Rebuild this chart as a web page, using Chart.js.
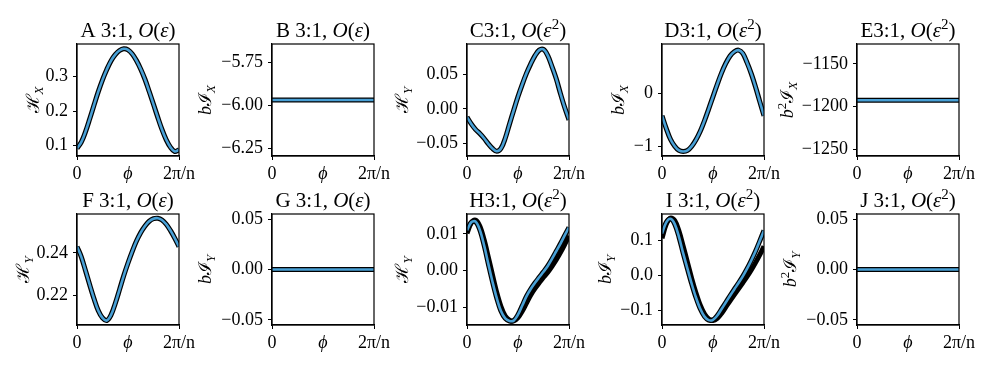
<!DOCTYPE html>
<html lang="en">
<head>
<meta charset="UTF-8">
<title>3:1 resonance panels</title>
<script src="https://cdn.jsdelivr.net/npm/chart.js"></script>
<style>
  body { margin: 0; background: #fff; }
  #wrap { position: relative; width: 997px; height: 374px; overflow: hidden; }
  #wrap canvas { position: absolute; }
</style>
</head>
<body>
<div id="wrap"></div>
<script>
// phase over one period, 0 .. 2pi/n (as a fraction)
const phi = [0, 0.042, 0.083, 0.125, 0.167, 0.208, 0.25, 0.292, 0.333, 0.375, 0.417, 0.458, 0.5,
             0.542, 0.583, 0.625, 0.667, 0.708, 0.75, 0.792, 0.833, 0.875, 0.917, 0.958, 1];
const phiFlat = [0, 1];

// top row
const hxEps   = [0.092, 0.110, 0.140, 0.178, 0.218, 0.256, 0.291, 0.321, 0.346, 0.364, 0.376, 0.381, 0.378,
                 0.366, 0.347, 0.322, 0.292, 0.257, 0.220, 0.182, 0.147, 0.117, 0.095, 0.083, 0.088];
const bJxEps  = [-5.968, -5.968];
const hyEps2  = [-0.012, -0.022, -0.030, -0.036, -0.043, -0.051, -0.058, -0.062, -0.058, -0.043, -0.022, -0.002, 0.018,
                 0.036, 0.052, 0.066, 0.078, 0.086, 0.087, 0.078, 0.062, 0.044, 0.022, 0.002, -0.016];
const bJxEps2 = [-0.42, -0.66, -0.86, -0.99, -1.07, -1.09, -1.07, -0.99, -0.87, -0.71, -0.51, -0.29, -0.06,
                 0.17, 0.38, 0.56, 0.70, 0.78, 0.81, 0.75, 0.58, 0.37, 0.12, -0.15, -0.42];
const b2JxEps2 = [-1192.5, -1192.5];

// bottom row
const hyEps   = [0.2430, 0.2382, 0.2318, 0.2250, 0.2185, 0.2130, 0.2095, 0.2083, 0.2108, 0.2163, 0.2228, 0.2293, 0.2353,
                 0.2408, 0.2456, 0.2496, 0.2527, 0.2549, 0.2561, 0.2563, 0.2555, 0.2535, 0.2505, 0.2470, 0.2430];
const bJyEps  = [0, 0];
const hyH     = [0.0110, 0.0132, 0.0134, 0.0112, 0.0070, 0.0020, -0.0030, -0.0075, -0.0110, -0.0130, -0.0137, -0.0136, -0.0120,
                 -0.0095, -0.0070, -0.0050, -0.0033, -0.0018, -0.0003, 0.0013, 0.0032, 0.0053, 0.0074, 0.0096, 0.0118];
const hyHNum  = [0.0102, 0.0130, 0.0138, 0.0122, 0.0085, 0.0038, -0.0012, -0.0060, -0.0098, -0.0124, -0.0135, -0.0137, -0.0128,
                 -0.0110, -0.0088, -0.0066, -0.0048, -0.0033, -0.0018, -0.0004, 0.0012, 0.0030, 0.0050, 0.0072, 0.0095];
const bJyI    = [0.118, 0.150, 0.160, 0.145, 0.108, 0.062, 0.018, -0.025, -0.063, -0.095, -0.117, -0.127, -0.126,
                 -0.114, -0.096, -0.077, -0.058, -0.040, -0.022, -0.003, 0.018, 0.042, 0.068, 0.097, 0.127];
const bJyINum = [0.105, 0.145, 0.162, 0.155, 0.125, 0.082, 0.036, -0.010, -0.050, -0.085, -0.110, -0.124, -0.128,
                 -0.122, -0.108, -0.090, -0.072, -0.055, -0.038, -0.021, -0.004, 0.015, 0.036, 0.058, 0.082];
const b2JyEps2 = [0, 0];

// y tick values
const ticksA = [0.1, 0.2, 0.3];
const ticksB = [-6.25, -6.0, -5.75];
const ticksC = [-0.05, 0, 0.05];
const ticksD = [-1, 0];
const ticksE = [-1250, -1200, -1150];
const ticksF = [0.22, 0.24];
const ticksG = [-0.05, 0, 0.05];
const ticksH = [-0.01, 0, 0.01];
const ticksI = [-0.1, 0, 0.1];

const FONT = "'Liberation Serif', 'DejaVu Serif', serif";
const BLUE = '#48a0d6';
const COLS = [77, 272, 467, 662, 857];
const ROWS = [44, 214];
const ROWH = [112, 111];
const PLOT_W = 102, PAD_L = 82, PAD_R = 32, PAD_T = 44, PAD_B = 32;

// rich text pieces
const n = t => ({ t });
const it = t => ({ t, i: true });
const sub = t => ({ t, i: true, sub: true });
const sup = t => ({ t, sup: true });

function setFont(ctx, p, size) {
  const s = (p.sub || p.sup) ? Math.round(size * 0.7) : size;
  ctx.font = (p.i ? 'italic ' : '') + s + 'px ' + FONT;
}

function drawRich(ctx, parts, size, cx, cy, rotate) {
  ctx.save();
  ctx.translate(cx, cy);
  if (rotate) ctx.rotate(-Math.PI / 2);
  ctx.textBaseline = 'alphabetic';
  ctx.textAlign = 'left';
  let total = 0;
  parts.forEach(p => { setFont(ctx, p, size); total += ctx.measureText(p.t).width; });
  let x = -total / 2;
  const base = rotate ? size * 0.33 : 0;
  parts.forEach(p => {
    setFont(ctx, p, size);
    const dy = p.sub ? size * 0.22 : p.sup ? -size * 0.4 : 0;
    ctx.fillText(p.t, x, base + dy);
    x += ctx.measureText(p.t).width;
  });
  ctx.restore();
}

const panelText = {
  id: 'panelText',
  afterDraw(chart, args, opts) {
    const ctx = chart.ctx, a = chart.chartArea;
    ctx.save();
    ctx.fillStyle = '#000';
    drawRich(ctx, opts.title, 21, (a.left + a.right) / 2, a.top - 7, false);
    drawRich(ctx, opts.ylabel, 18, a.left + opts.off, (a.top + a.bottom) / 2, true);
    ctx.strokeStyle = '#000';
    ctx.lineWidth = 1.2;
    ctx.strokeRect(a.left, a.top, a.right - a.left, a.bottom - a.top);
    ctx.restore();
  }
};

function fmt(v, dec) {
  return v.toFixed(dec).replace('-', '\u2212');
}

const wrap = document.getElementById('wrap');

function makePanel(p) {
  const h = ROWH[p.row];
  const cv = document.createElement('canvas');
  cv.width = PAD_L + PLOT_W + PAD_R;
  cv.height = PAD_T + h + PAD_B;
  cv.style.left = (COLS[p.col] - PAD_L) + 'px';
  cv.style.top = (ROWS[p.row] - PAD_T) + 'px';
  wrap.appendChild(cv);

  const pts = arr => p.x.map((v, k) => ({ x: v, y: arr[k] }));
  const datasets = [{
    data: pts(p.blue), borderColor: BLUE, borderWidth: 2.6, order: 0, clip: 0
  }];
  p.black.forEach(arr => datasets.push({
    data: pts(arr), borderColor: '#000', borderWidth: 5, order: 1, clip: 0
  }));

  const grid = {
    drawOnChartArea: false, tickLength: 4, color: '#000',
    tickColor: c => (c.tick && c.tick.value === 0.5 && c.scale.axis === 'x') ? 'rgba(0,0,0,0)' : '#000'
  };
  const border = { display: true, color: '#000', width: 1.2 };

  new Chart(cv, {
    type: 'line',
    data: { datasets },
    options: {
      responsive: false,
      animation: false,
      devicePixelRatio: 1,
      layout: { padding: { top: PAD_T, right: PAD_R, left: 0, bottom: 0 } },
      elements: { point: { radius: 0 }, line: { tension: 0.35 } },
      plugins: {
        legend: { display: false },
        tooltip: { enabled: false },
        panelText: { title: p.title, ylabel: p.ylabel, off: p.off }
      },
      scales: {
        x: {
          type: 'linear', min: 0, max: 1,
          afterBuildTicks: s => { s.ticks = [{ value: 0 }, { value: 0.5 }, { value: 1 }]; },
          afterFit: s => { s.height = PAD_B; },
          ticks: {
            callback: v => v === 0 ? '0' : v === 1 ? '2\u03c0/n' : '\u03d5',
            font: c => ({ family: FONT, size: 18, style: (c.tick && c.tick.value === 0.5) ? 'italic' : 'normal' }),
            color: '#000', padding: 3, maxRotation: 0, autoSkip: false
          },
          grid, border
        },
        y: {
          type: 'linear', min: p.min, max: p.max,
          afterBuildTicks: s => { s.ticks = p.ticks.map(v => ({ value: v })); },
          afterFit: s => { s.width = PAD_L; },
          ticks: {
            callback: v => fmt(v, p.dec),
            font: { family: FONT, size: 18 }, color: '#000', padding: 5, autoSkip: false
          },
          grid, border
        }
      }
    },
    plugins: [panelText]
  });
}

const epsTitle = L => [n(L + '3:1, '), it('O'), n('('), it('\u03b5'), n(')')];
const eps2Title = L => [n(L + '3:1, '), it('O'), n('('), it('\u03b5'), sup('2'), n(')')];

const panels = [
  { col: 0, row: 0, x: phi, blue: hxEps, black: [hxEps], min: 0.07, max: 0.395, ticks: ticksA, dec: 1,
    title: epsTitle('A '), ylabel: [n('\u210b'), sub('X')], off: -44 },
  { col: 1, row: 0, x: phiFlat, blue: bJxEps, black: [bJxEps], min: -6.295, max: -5.641, ticks: ticksB, dec: 2,
    title: epsTitle('B '), ylabel: [it('b'), n('\u2110'), sub('X')], off: -67 },
  { col: 2, row: 0, x: phi, blue: hyEps2, black: [hyEps2], min: -0.069, max: 0.095, ticks: ticksC, dec: 2,
    title: eps2Title('C'), ylabel: [n('\u210b'), sub('Y')], off: -65 },
  { col: 3, row: 0, x: phi, blue: bJxEps2, black: [bJxEps2], min: -1.174, max: 0.925, ticks: ticksD, dec: 0,
    title: eps2Title('D'), ylabel: [it('b'), n('\u2110'), sub('X')], off: -44 },
  { col: 4, row: 0, x: phiFlat, blue: b2JxEps2, black: [b2JxEps2], min: -1257.8, max: -1126.6, ticks: ticksE, dec: 0,
    title: eps2Title('E'), ylabel: [it('b'), sup('2'), n('\u2110'), sub('X')], off: -70 },
  { col: 0, row: 1, x: phi, blue: hyEps, black: [hyEps], min: 0.2062, max: 0.2583, ticks: ticksF, dec: 2,
    title: epsTitle('F '), ylabel: [n('\u210b'), sub('Y')], off: -54 },
  { col: 1, row: 1, x: phiFlat, blue: bJyEps, black: [bJyEps], min: -0.055, max: 0.055, ticks: ticksG, dec: 2,
    title: epsTitle('G '), ylabel: [it('b'), n('\u2110'), sub('Y')], off: -67 },
  { col: 2, row: 1, x: phi, blue: hyH, black: [hyH, hyHNum], min: -0.0148, max: 0.01545, ticks: ticksH, dec: 2,
    title: eps2Title('H'), ylabel: [n('\u210b'), sub('Y')], off: -65 },
  { col: 3, row: 1, x: phi, blue: bJyI, black: [bJyI, bJyINum], min: -0.1408, max: 0.1737, ticks: ticksI, dec: 1,
    title: eps2Title('I '), ylabel: [it('b'), n('\u2110'), sub('Y')], off: -57 },
  { col: 4, row: 1, x: phiFlat, blue: b2JyEps2, black: [b2JyEps2], min: -0.055, max: 0.055, ticks: ticksG, dec: 2,
    title: eps2Title('J '), ylabel: [it('b'), sup('2'), n('\u2110'), sub('Y')], off: -67 }
];

panels.forEach(makePanel);
</script>
</body>
</html>
